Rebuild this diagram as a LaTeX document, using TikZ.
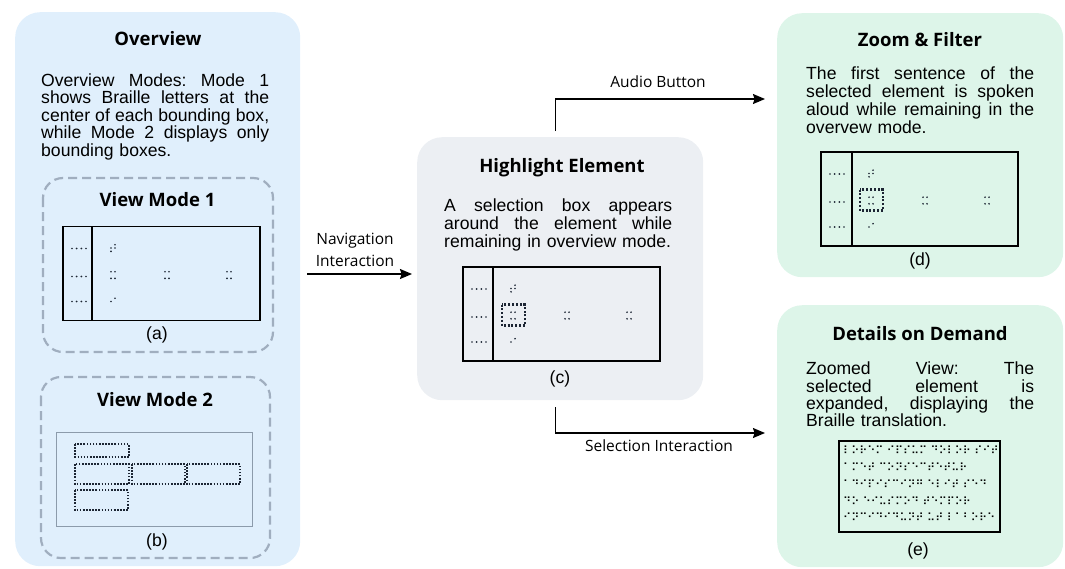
\documentclass[tikz,border=0pt]{standalone}
\usepackage{fontspec}
\setmainfont{Liberation Sans}
\newfontfamily\osans{Open Sans}
\newfontfamily\brl{DejaVu Sans}
\usetikzlibrary{arrows.meta}
\definecolor{ovfill}{HTML}{E0EFFC}
\definecolor{hlfill}{HTML}{ECEFF3}
\definecolor{grfill}{HTML}{DDF5E9}
\definecolor{dashc}{HTML}{A0AEBF}
\definecolor{scrtwo}{HTML}{8C9BAB}
\definecolor{dotc}{HTML}{1C2533}
\newcommand\jl[1]{\leavevmode\hbox to 228pt{\spaceskip=\fontdimen2\font plus 1fil\xspaceskip=\spaceskip #1}}
\newcommand\bdot[2]{\fill[dotc] (#1,#2) circle (0.95pt);}
\newcommand\myscreen[4]{%
 \begin{scope}[shift={(#1,#2)}]
  \draw[scrline] (0,0) rectangle (197,94);
  \draw[scrline] (#3,0) -- (#3,94);
  \foreach \yy in {22,50,75} {\foreach \xx in {9,13.67,18.33,23} {\bdot{\xx}{\yy}}}
  \bdot{52}{18.2}\bdot{48}{21.5}\bdot{52}{21.5}\bdot{48}{24.8}
  \foreach \cx in {48,102,164} {\bdot{\cx}{45.2}\bdot{\cx+4}{45.2}\bdot{\cx}{51.8}\bdot{\cx+4}{51.8}}
  \bdot{48}{75}\bdot{52}{71.7}
  \ifnum#4=1 \draw[selbox] (39,37.5) rectangle (62,58.5);\fi
 \end{scope}}
\tikzset{
 panel/.style={rounded corners=25pt, draw=none, minimum width=#1, inner sep=0pt, anchor=north west},
 dashbox/.style={draw=dashc, line width=2.2pt, dash pattern=on 9pt off 5pt, rounded corners=20pt},
 title/.style={font=\osans\bfseries\fontsize{18.5}{22}\selectfont, inner sep=0pt, anchor=base},
 body/.style={font=\fontsize{17.6}{#1}\selectfont\frenchspacing, text width=228pt, align=left, inner sep=0pt, anchor=north west},
 captxt/.style={font=\fontsize{17.6}{20}\selectfont, inner sep=0pt},
 lbl/.style={font=\osans\fontsize{15.5}{21.5}\selectfont, inner sep=0pt, align=center},
 scrline/.style={draw=black, line width=1.4pt},
 selbox/.style={draw=dotc, line width=2.3pt, dash pattern=on 2pt off 1.8pt},
 vdots/.style={draw=dotc, line width=1.8pt, dash pattern=on 1.6pt off 1.5pt},
 arr/.style={line width=1.3pt, -{Stealth[length=12pt,width=10pt,inset=1.5pt]}},
}
\begin{document}
\begin{tikzpicture}[x=1pt,y=-1pt]
\useasboundingbox (0,0) rectangle (1065,568);
% panels
\node[panel=285pt, fill=ovfill, minimum height=554pt] (ov) at (15,12) {};
\node[panel=286pt, fill=hlfill, minimum height=263pt] (hl) at (417,137) {};
\node[panel=286pt, fill=grfill, minimum height=264pt] (zf) at (777,13) {};
\node[panel=286pt, fill=grfill, minimum height=262pt] (dd) at (777,305) {};
% overview
\node[title] (ovt) at (158,45.7) {Overview};
\node[body=17.5pt] (ovx) at (41,73.5) {\jl{Overview Modes: Mode 1}\\\jl{shows Braille letters at the}\\\jl{center of each bounding box,}\\\jl{while Mode 2 displays only}\\bounding boxes.};
\draw[dashbox] (43,178) rectangle (273,352);
\node[title] (v1t) at (157.5,206.5) {View Mode 1};
\myscreen{63}{226.5}{29}{0}
\node[captxt] (capa) at (157,335) {(a)};
\draw[dashbox] (41,377) rectangle (270,558);
\node[title] (v2t) at (155,406) {View Mode 2};
\draw[scrtwo, line width=1pt] (56,432) rectangle (252,526);
\draw[vdots] (75,444) rectangle (129,457);
\draw[vdots] (75,464) rectangle (129,484);
\draw[vdots] (132,464) rectangle (185,484);
\draw[vdots] (187,464) rectangle (240,484);
\draw[vdots] (75,490) rectangle (128,510);
\node[captxt] (capb) at (157,542) {(b)};
% highlight
\node[title] (hlt) at (562,172) {Highlight Element};
\node[body=18pt] (hlx) at (444,199) {\jl{A selection box appears}\\\jl{around the element while}\\remaining in overview mode.};
\myscreen{463}{267}{30}{1}
\node[captxt] (capc) at (560,379) {(c)};
% zoom & filter
\node[title] (zft) at (920,46.7) {Zoom \& Filter};
\node[body=17.9pt] (zfx) at (806,66.5) {\jl{The first sentence of the}\\\jl{selected element is spoken}\\\jl{aloud while remaining in the}\\overvew mode.};
\myscreen{821}{152}{31}{1}
\node[captxt] (capd) at (920,261) {(d)};
% details
\node[title] (ddt) at (920,340) {Details on Demand};
\node[body=17.3pt] (ddx) at (806,362) {\jl{Zoomed View: The}\\\jl{selected element is}\\\jl{expanded, displaying the}\\Braille translation.};
\draw[scrline] (839,441) rectangle (1000,532);
\node[font=\brl\fontsize{11}{16.75}\selectfont, align=left, inner sep=0pt, anchor=north west] (brtxt) at (843,446)
 {⠇⠕⠗⠑⠍ ⠊⠏⠎⠥⠍ ⠙⠕⠇⠕⠗ ⠎⠊⠞\\⠁⠍⠑⠞ ⠉⠕⠝⠎⠑⠉⠞⠑⠞⠥⠗\\⠁⠙⠊⠏⠊⠎⠉⠊⠝⠛ ⠑⠇⠊⠞ ⠎⠑⠙\\⠙⠕ ⠑⠊⠥⠎⠍⠕⠙ ⠞⠑⠍⠏⠕⠗\\⠊⠝⠉⠊⠙⠊⠙⠥⠝⠞ ⠥⠞ ⠇⠁⠃⠕⠗⠑};
\node[captxt] (cape) at (918,551) {(e)};
% connectors
\coordinate (navy) at (0,274);
\coordinate (audy) at (0,99);
\coordinate (sely) at (0,433);
\draw[arr, shorten <=7pt, shorten >=5pt] (ov.east |- navy) -- (hl.west |- navy);
\node[lbl] (navl) at (355,250) {Navigation\\Interaction};
\draw[arr] ([xshift=-5pt,yshift=6pt]hl.north) |- ([xshift=-12pt]zf.west |- audy);
\node[lbl] (audl) at (658,81.5) {Audio Button};
\draw[arr] ([xshift=-5pt,yshift=-7pt]hl.south) |- ([xshift=-12pt]dd.west |- sely);
\node[lbl] (sell) at (659,446) {Selection Interaction};
\end{tikzpicture}
\end{document}
